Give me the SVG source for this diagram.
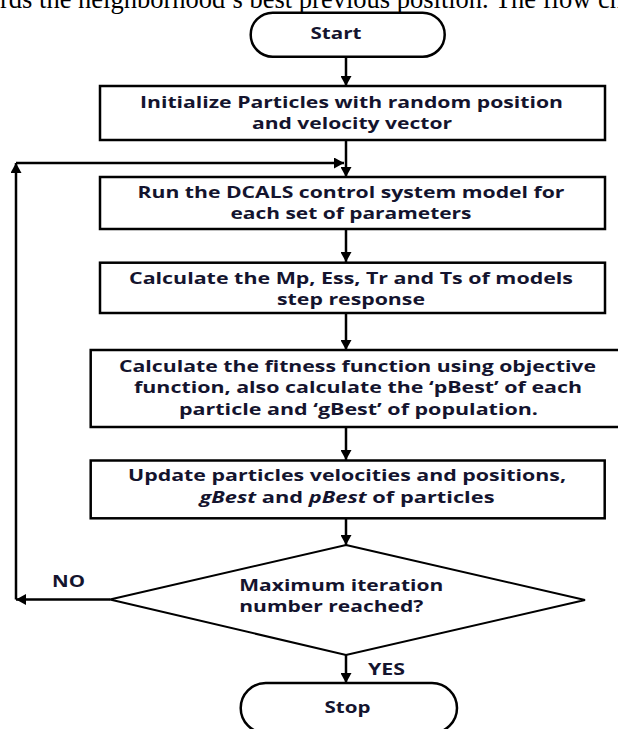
<svg xmlns="http://www.w3.org/2000/svg" width="618" height="729" viewBox="0 0 618 729">
<style>
.bg{fill:#fff}
.box{fill:#fff;stroke:#000;stroke-width:2.5}
.dia{fill:#fff;stroke:#000;stroke-width:2}
.t{font-family:"Open Sans","Liberation Sans",sans-serif;font-weight:700;font-size:15.5px;fill:#14142e}
.p{font-family:"Liberation Serif","Times New Roman",serif;font-size:26.5px;fill:#000}
.c{stroke:#000;stroke-width:2.5;fill:none;marker-end:url(#ah)}
.i{font-style:italic}
</style>
<defs>
<marker id="ah" markerUnits="userSpaceOnUse" markerWidth="11" markerHeight="11" refX="10" refY="5.5" orient="auto" viewBox="0 0 11 11">
<path d="M0,0 L10,5.5 L0,11 z" fill="#000"/>
</marker>
</defs>
<rect class="bg" x="0" y="0" width="618" height="729"/>
<text class="p" x="0" y="8">rds the neighborhood’s best previous position. The flow ch</text>

<g id="connectors">
<line class="c" x1="346" y1="57" x2="346" y2="86"/>
<line class="c" x1="346" y1="140" x2="346" y2="177"/>
<line class="c" x1="346" y1="229" x2="346" y2="262"/>
<line class="c" x1="346" y1="313" x2="346" y2="350"/>
<line class="c" x1="346" y1="427" x2="346" y2="460"/>
<line class="c" x1="346" y1="518" x2="346" y2="545"/>
<line class="c" x1="346" y1="655" x2="346" y2="683"/>
<line class="c" x1="110" y1="599.5" x2="16" y2="599.5"/>
<line class="c" x1="16" y1="599.5" x2="16" y2="163"/>
<line class="c" x1="16" y1="163" x2="344" y2="163"/>
</g>

<g id="start">
<rect class="box" x="250.7" y="12.7" width="194" height="44" rx="22" ry="22"/>
<text class="t" x="336" y="39" text-anchor="middle" textLength="51" lengthAdjust="spacingAndGlyphs">Start</text>
</g>

<g id="init">
<rect class="box" x="100" y="86" width="505" height="54"/>
<text class="t" x="351.5" y="107.5" text-anchor="middle" textLength="423" lengthAdjust="spacingAndGlyphs">Initialize Particles with random position</text>
<text class="t" x="352" y="128.5" text-anchor="middle" textLength="200" lengthAdjust="spacingAndGlyphs">and velocity vector</text>
</g>

<g id="run">
<rect class="box" x="100" y="177" width="505" height="52"/>
<text class="t" x="351" y="197.5" text-anchor="middle" textLength="427" lengthAdjust="spacingAndGlyphs">Run the DCALS control system model for</text>
<text class="t" x="351" y="218.5" text-anchor="middle" textLength="241" lengthAdjust="spacingAndGlyphs">each set of parameters</text>
</g>

<g id="calc">
<rect class="box" x="100" y="262.7" width="505" height="50.3"/>
<text class="t" x="351" y="283.5" text-anchor="middle" textLength="444" lengthAdjust="spacingAndGlyphs">Calculate the Mp, Ess, Tr and Ts of models</text>
<text class="t" x="351" y="304.5" text-anchor="middle" textLength="148" lengthAdjust="spacingAndGlyphs">step response</text>
</g>

<g id="fitness">
<rect class="box" x="90.7" y="350" width="535" height="77"/>
<text class="t" x="357.5" y="372" text-anchor="middle" textLength="477" lengthAdjust="spacingAndGlyphs">Calculate the fitness function using objective</text>
<text class="t" x="358" y="393" text-anchor="middle" textLength="448" lengthAdjust="spacingAndGlyphs">function, also calculate the ‘pBest’ of each</text>
<text class="t" x="358.5" y="415" text-anchor="middle" textLength="359" lengthAdjust="spacingAndGlyphs">particle and ‘gBest’ of population.</text>
</g>

<g id="update">
<rect class="box" x="90.7" y="460.5" width="514" height="57.8"/>
<text class="t" x="347" y="481" text-anchor="middle" textLength="438" lengthAdjust="spacingAndGlyphs">Update particles velocities and positions,</text>
<text class="t" x="347" y="502.5" text-anchor="middle" textLength="295" lengthAdjust="spacingAndGlyphs"><tspan class="i">gBest</tspan> and <tspan class="i">pBest</tspan> of particles</text>
</g>

<g id="decision">
<polygon class="dia" points="346,545 585,600 346,655 110,599.5"/>
<text class="t" x="239.3" y="591" textLength="204" lengthAdjust="spacingAndGlyphs">Maximum iteration</text>
<text class="t" x="239.3" y="612" textLength="184" lengthAdjust="spacingAndGlyphs">number reached?</text>
<text class="t" x="52" y="587" textLength="33" lengthAdjust="spacingAndGlyphs">NO</text>
<text class="t" x="368" y="674.5" textLength="37" lengthAdjust="spacingAndGlyphs">YES</text>
</g>

<g id="stop">
<rect class="box" x="240.7" y="683" width="216.3" height="50" rx="25" ry="25"/>
<text class="t" x="347.5" y="712.5" text-anchor="middle" textLength="46" lengthAdjust="spacingAndGlyphs">Stop</text>
</g>
</svg>
